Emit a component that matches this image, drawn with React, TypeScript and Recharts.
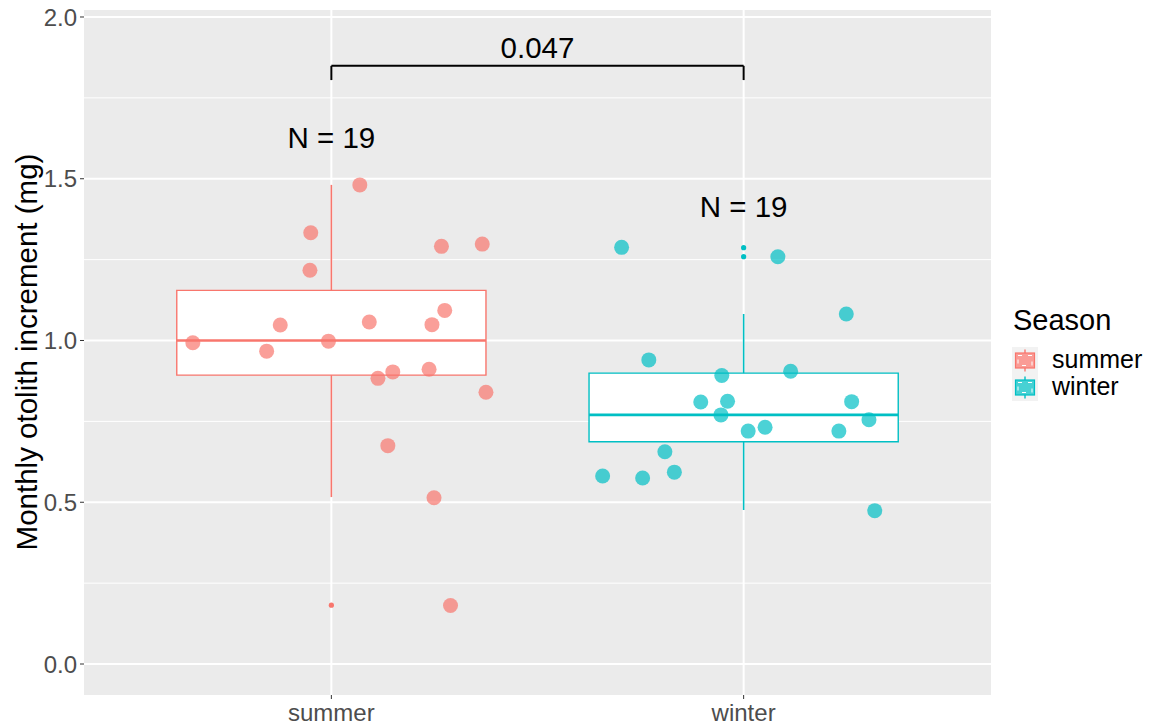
import React from 'react';
import {
  ComposedChart,
  Scatter,
  XAxis,
  YAxis,
  CartesianGrid,
  ReferenceArea,
  ReferenceLine,
  ReferenceDot,
} from 'recharts';

// ---- data ----
const categories = ['summer', 'winter'];
const seasonColors = ['#F8766D', '#00BFC4'];

// jittered positions (category units) and values of the observations
const summerX = [1.069, 0.95, 0.948, 1.267, 1.366, 1.275, 0.876, 1.092, 1.244, 0.664, 0.993, 0.843, 1.113, 1.149, 1.237, 1.375, 1.137, 1.249, 1.289];
const summerY = [1.481, 1.333, 1.217, 1.291, 1.298, 1.093, 1.048, 1.057, 1.049, 0.993, 0.998, 0.967, 0.883, 0.903, 0.911, 0.84, 0.675, 0.514, 0.181];
const winterX = [1.704, 2.083, 2.249, 1.77, 1.947, 2.114, 1.896, 1.961, 2.262, 1.945, 2.304, 2.011, 2.052, 2.231, 1.809, 1.658, 1.755, 1.832, 2.318];
const winterY = [1.288, 1.259, 1.082, 0.94, 0.892, 0.905, 0.81, 0.812, 0.811, 0.77, 0.755, 0.72, 0.732, 0.72, 0.656, 0.581, 0.575, 0.593, 0.474];

// boxplot statistics per category
const boxLow = [0.516, 0.476];
const boxQ1 = [0.893, 0.687];
const boxMedian = [1.0, 0.77];
const boxQ3 = [1.155, 0.899];
const boxHigh = [1.481, 1.082];
const outlierX = [1, 2, 2];
const outlierY = [0.182, 1.287, 1.259];

const nLabels = ['N = 19', 'N = 19'];
const nLabelY = [1.626, 1.413];
const pLabel = '0.047';
const bracketY = 1.849;
const bracketEndY = 1.805;
const pLabelY = 1.905;

const yTicks = [0, 0.5, 1, 1.5, 2];
const yMinorTicks = [0.25, 0.75, 1.25, 1.75];
const xTicks = [1, 2];
const boxHalfWidth = 0.375;

const summerData = summerX.map((x, i) => ({ x, y: summerY[i] }));
const winterData = winterX.map((x, i) => ({ x, y: winterY[i] }));
const outlierData = outlierX.map((x, i) => ({ x, y: outlierY[i], c: seasonColors[x - 1] }));

const FONT = '"Liberation Sans", Arial, Helvetica, sans-serif';

const bigDot = (color: string) => (props: any) => (
  <circle cx={props.cx} cy={props.cy} r={7.5} fill={color} fillOpacity={0.7} stroke="none" />
);

const smallDot = (props: any) => (
  <circle cx={props.cx} cy={props.cy} r={2.6} fill={props.payload.c} stroke="none" />
);

const textLabel = (value: string, size: number) => ({
  value,
  position: 'center' as const,
  fontSize: size,
  fill: '#000',
  fontFamily: FONT,
});

export default function App() {
  return (
    <div style={{ position: 'absolute', left: 0, top: 0, width: 1157, height: 726, background: '#fff', fontFamily: FONT }}>
      <ComposedChart
        width={1157}
        height={726}
        margin={{ top: 10, right: 166, bottom: 0, left: 0 }}
      >
        <CartesianGrid
          fill="#EBEBEB"
          stroke="#FFFFFF"
          strokeWidth={2}
          horizontalValues={yTicks}
          verticalValues={xTicks}
        />
        <CartesianGrid
          stroke="#FFFFFF"
          strokeWidth={1}
          horizontalValues={yMinorTicks}
          vertical={false}
        />
        <XAxis
          type="number"
          dataKey="x"
          domain={[0.4, 2.6]}
          ticks={xTicks}
          allowDataOverflow
          tickFormatter={(v: number) => categories[v - 1]}
          axisLine={false}
          tickLine={{ stroke: '#333333', strokeWidth: 1 }}
          tickSize={4}
          tickMargin={5}
          height={31}
          tick={{ fill: '#4D4D4D', fontSize: 24, fontFamily: FONT }}
        />
        <YAxis
          type="number"
          dataKey="y"
          domain={[-0.0958, 2.0216]}
          ticks={yTicks}
          allowDataOverflow
          tickFormatter={(v: number) => v.toFixed(1)}
          axisLine={false}
          tickLine={{ stroke: '#333333', strokeWidth: 1 }}
          tickSize={4}
          tickMargin={3}
          width={84}
          tick={{ fill: '#4D4D4D', fontSize: 24, fontFamily: FONT }}
          label={{
            content: () => (
              <text
                x={26}
                y={352}
                transform="rotate(-90, 26, 352)"
                textAnchor="middle"
                dominantBaseline="central"
                fontSize={29.5}
                fill="#000"
                fontFamily={FONT}
              >
                Monthly otolith increment (mg)
              </text>
            ),
          }}
        />

        {/* boxes */}
        {categories.map((c, i) => (
          <ReferenceArea
            key={'box' + c}
            x1={i + 1 - boxHalfWidth}
            x2={i + 1 + boxHalfWidth}
            y1={boxQ1[i]}
            y2={boxQ3[i]}
            fill="#FFFFFF"
            fillOpacity={1}
            stroke={seasonColors[i]}
            strokeWidth={1.4}
          />
        ))}
        {/* whiskers */}
        {categories.map((c, i) => (
          <ReferenceLine
            key={'wh' + c}
            segment={[{ x: i + 1, y: boxQ3[i] }, { x: i + 1, y: boxHigh[i] }]}
            stroke={seasonColors[i]}
            strokeWidth={1.6}
          />
        ))}
        {categories.map((c, i) => (
          <ReferenceLine
            key={'wl' + c}
            segment={[{ x: i + 1, y: boxLow[i] }, { x: i + 1, y: boxQ1[i] }]}
            stroke={seasonColors[i]}
            strokeWidth={1.6}
          />
        ))}
        {/* medians */}
        {categories.map((c, i) => (
          <ReferenceLine
            key={'md' + c}
            segment={[{ x: i + 1 - boxHalfWidth, y: boxMedian[i] }, { x: i + 1 + boxHalfWidth, y: boxMedian[i] }]}
            stroke={seasonColors[i]}
            strokeWidth={2.6}
          />
        ))}

        {/* significance bracket */}
        <ReferenceLine segment={[{ x: 1, y: bracketY }, { x: 2, y: bracketY }]} stroke="#000" strokeWidth={2} />
        <ReferenceLine segment={[{ x: 1, y: bracketEndY }, { x: 1, y: bracketY }]} stroke="#000" strokeWidth={2} />
        <ReferenceLine segment={[{ x: 2, y: bracketEndY }, { x: 2, y: bracketY }]} stroke="#000" strokeWidth={2} />
        <ReferenceDot x={1.5} y={pLabelY} r={0} fill="none" stroke="none" label={textLabel(pLabel, 29.5)} />

        {/* N labels */}
        {categories.map((c, i) => (
          <ReferenceDot
            key={'n' + c}
            x={i + 1}
            y={nLabelY[i]}
            r={0}
            fill="none"
            stroke="none"
            label={textLabel(nLabels[i], 29.5)}
          />
        ))}

        <Scatter data={outlierData} shape={smallDot} isAnimationActive={false} />
        <Scatter data={summerData} shape={bigDot(seasonColors[0])} isAnimationActive={false} />
        <Scatter data={winterData} shape={bigDot(seasonColors[1])} isAnimationActive={false} />
      </ComposedChart>

      {/* legend */}
      <svg width={160} height={120} style={{ position: 'absolute', left: 997, top: 295 }}>
        <text x={16} y={35} fontSize={29} fill="#000" fontFamily={FONT}>Season</text>
        {categories.map((c, i) => {
          const top = 52 + i * 27;
          const cx = 28;
          return (
            <g key={'lg' + c}>
              <rect x={15} y={top} width={26} height={27} fill="#F2F2F2" />
              <line x1={cx} x2={cx} y1={top + 2.5} y2={top + 24.5} stroke={seasonColors[i]} strokeWidth={1.4} />
              <rect x={cx - 9.5} y={top + 6} width={19} height={15} fill="#FFFFFF" stroke={seasonColors[i]} strokeWidth={1.2} />
              <rect x={cx - 9.5} y={top + 6} width={19} height={15} fill={seasonColors[i]} fillOpacity={0.72} />
              <rect x={cx - 7} y={top + 8.5} width={14} height={10} fill="none" stroke="#FFFFFF" strokeWidth={1} strokeDasharray="4 6" />
              <text x={55} y={top + 21} fontSize={25} fill="#000" fontFamily={FONT}>{c}</text>
            </g>
          );
        })}
      </svg>
    </div>
  );
}
